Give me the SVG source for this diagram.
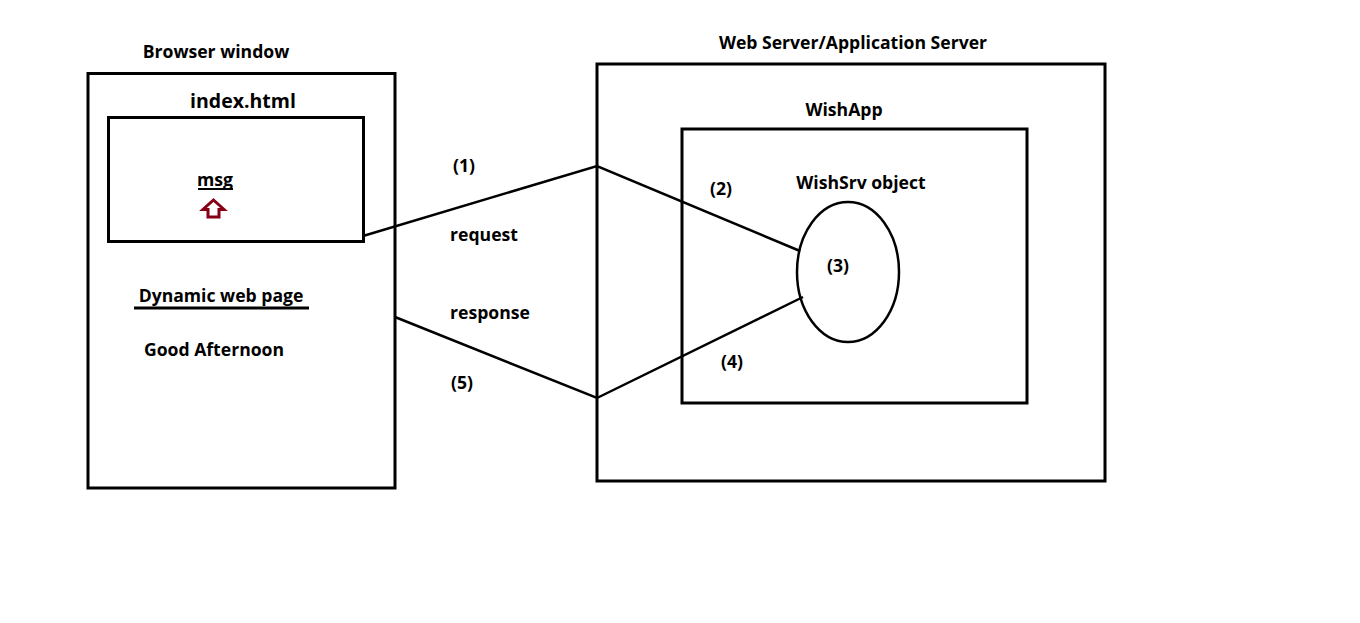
<svg xmlns="http://www.w3.org/2000/svg" width="1360" height="623" viewBox="0 0 1360 623">
<style>
.t{font-family:"Open Sans","Noto Sans","Liberation Sans",sans-serif;font-weight:bold;font-size:17.6px;fill:#000}
.b{fill:none;stroke:#000;stroke-width:3}
.c{fill:none;stroke:#000;stroke-width:2.5}
</style>
<rect width="1360" height="623" fill="#fff"/>
<g id="browser">
<rect class="b" x="88" y="73.5" width="307" height="414.5"/>
<text class="t" x="216" y="58" text-anchor="middle">Browser window</text>
<text class="t" x="221" y="302" text-anchor="middle">Dynamic web page</text>
<line x1="134" y1="308" x2="309" y2="308" stroke="#000" stroke-width="3"/>
<text class="t" x="214" y="356" text-anchor="middle">Good Afternoon</text>
</g>
<g id="index">
<rect class="b" x="108.5" y="117.5" width="255" height="124"/>
<text class="t" x="243" y="108" text-anchor="middle" style="font-size:19.5px">index.html</text>
<text class="t" x="215" y="186" text-anchor="middle">msg</text>
<line x1="198" y1="189" x2="233" y2="189" stroke="#000" stroke-width="2"/>
<path d="M213.5,200 L224,209.5 L219,209.5 L219,217 L208,217 L208,209.5 L203,209.5 Z" fill="none" stroke="#880015" stroke-width="3"/>
</g>
<g id="server">
<rect class="b" x="597" y="64" width="508" height="417"/>
<text class="t" x="853" y="49" text-anchor="middle">Web Server/Application Server</text>
</g>
<g id="wishapp">
<rect class="b" x="682" y="129" width="345" height="274"/>
<text class="t" x="844" y="116" text-anchor="middle">WishApp</text>
</g>
<g id="wishsrv">
<text class="t" x="861" y="189" text-anchor="middle">WishSrv object</text>
<ellipse class="c" cx="848" cy="272" rx="51" ry="70"/>
<text class="t" x="838" y="272" text-anchor="middle">(3)</text>
</g>
<g id="connectors">
<polyline class="c" points="363,236 597,166 800,251"/>
<polyline class="c" points="395,317 597,398 803,297"/>
<text class="t" x="464" y="172" text-anchor="middle">(1)</text>
<text class="t" x="484" y="241" text-anchor="middle">request</text>
<text class="t" x="490" y="319" text-anchor="middle">response</text>
<text class="t" x="462" y="389" text-anchor="middle">(5)</text>
<text class="t" x="721" y="195" text-anchor="middle">(2)</text>
<text class="t" x="732" y="368" text-anchor="middle">(4)</text>
</g>
</svg>
